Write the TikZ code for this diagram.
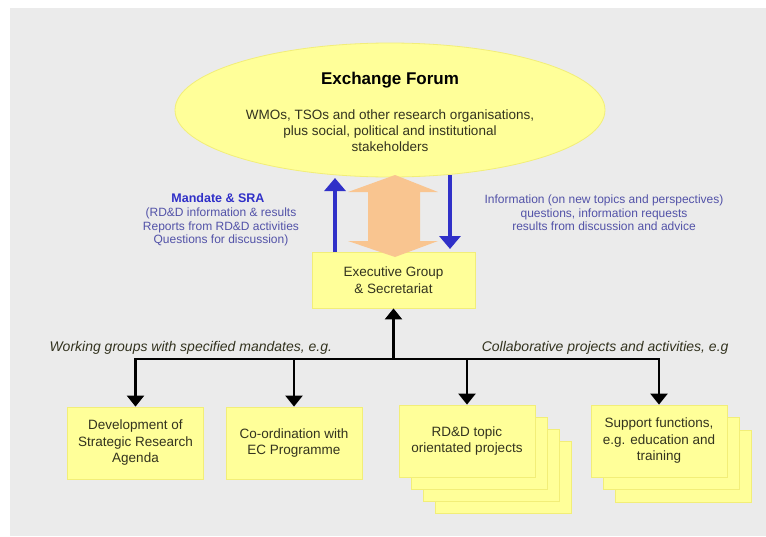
\documentclass[tikz,border=0pt]{standalone}
\usepackage{fontspec}
\setmainfont{Liberation Sans}
\usetikzlibrary{shapes.geometric,arrows.meta}

\definecolor{bg}{HTML}{EBEBEB}
\definecolor{pad}{HTML}{FFFF99}
\definecolor{padedge}{HTML}{F2EE78}
\definecolor{peach}{HTML}{F9C590}
\definecolor{flowblue}{HTML}{3030C8}
\definecolor{noteblue}{HTML}{5252A8}
\definecolor{ink}{HTML}{33331F}

\begin{document}
\begin{tikzpicture}[x=1pt,y=-1pt,
  boxfont/.style={font=\fontsize{13.5}{16.5}\selectfont},
  card/.style={rectangle, fill=pad, draw=padedge, line width=0.8pt,
    minimum width=136, minimum height=72, align=center, text=ink, boxfont, inner sep=0pt},
  backcard/.style={rectangle, fill=pad, draw=padedge, line width=0.8pt,
    minimum width=136, minimum height=72},
  note/.style={text=noteblue, align=center, font=\fontsize{12}{13.5}\selectfont},
  heading/.style={text=ink, font=\itshape\fontsize{14}{16}\selectfont},
  flow/.style={draw=flowblue, line width=3.2pt, -{Triangle[width=21pt,length=13pt]}},
  conn/.style={draw=black, line width=2.4pt, -{Triangle[width=17pt,length=11pt]}},
]
\useasboundingbox (0,0) rectangle (766,536);
\fill[white] (0,0) rectangle (766,536);
\fill[bg] (10,8) rectangle (766,536);

% Exchange forum
\node[ellipse, fill=pad, draw=padedge, line width=0.8pt,
      minimum width=430, minimum height=134] (forum) at (390,110) {};
\node[text=black, font=\bfseries\fontsize{17}{20}\selectfont] (forumtitle) at (390,80) {Exchange Forum};
\node[text=ink, align=center, font=\fontsize{13.5}{16}\selectfont] (forumbody) at (390,131)
  {WMOs, TSOs and other research organisations,\\ plus social, political and institutional\\ stakeholders};

% Executive group
\node[rectangle, fill=pad, draw=padedge, line width=0.8pt, minimum width=163, minimum height=56,
      align=center, text=ink, boxfont, inner sep=0pt] (exec) at (393.5,280)
  {Executive Group\\ \& Secretariat};

% Two-way exchange arrow
\coordinate (peachtop) at (395,175);
\coordinate (peachbot) at (395,257);
\fill[peach] (peachtop) -- (438,192) -- (420,192) -- (420,241) -- (438,241) -- (peachbot)
  -- (348,241) -- (368,241) -- (368,192) -- (348,192) -- cycle;

% Reporting flows
\coordinate (upfoot) at (335,252);
\coordinate (uphead) at (335,178);
\coordinate (downfoot) at (450,175);
\coordinate (downhead) at (450,249);
\draw[flow] (upfoot) -- (uphead);
\draw[flow] (downfoot) -- (downhead);

\node[text=flowblue, font=\bfseries\fontsize{12.5}{14}\selectfont] (mandate) at (218,198) {Mandate \& SRA};
\node[note] (mandatenote) at (221,227)
  {(RD\&D information \& results\\ Reports from RD\&D activities\\ Questions for discussion)};
\node[note] (infonote) at (604,213)
  {Information (on new topics and perspectives)\\ questions, information requests\\ results from discussion and advice};

% Working groups and projects
\node[backcard] (b3c) at (503,477) {};
\node[backcard] (b3b) at (491,465) {};
\node[backcard] (b3a) at (479,453) {};
\node[backcard] (b4b) at (683,466) {};
\node[backcard] (b4a) at (671,453) {};

\node[card] (b1) at (135.5,443) {Development of\\ Strategic Research\\ Agenda};
\node[card] (b2) at (294,443) {Co-ordination with\\ EC Programme};
\node[card] (b3) at (467,441) {RD\&D topic\\ orientated projects};
\node[card] (b4) at (659,441) {Support functions,\\ e.g. education and\\ training};

\coordinate (hub) at (393.5,359);
\draw[conn] (hub) -- (exec.south);
\draw[conn] (hub) -| (b1.north);
\draw[conn] (hub) -| (b2.north);
\draw[conn] (hub) -| (b3.north);
\draw[conn] (hub) -| (b4.north);

\node[heading, anchor=west] (wglabel) at (46,348) {Working groups with specified mandates, e.g.};
\node[heading, anchor=east] (cplabel) at (732,348) {Collaborative projects and activities, e.g};
\end{tikzpicture}
\end{document}
